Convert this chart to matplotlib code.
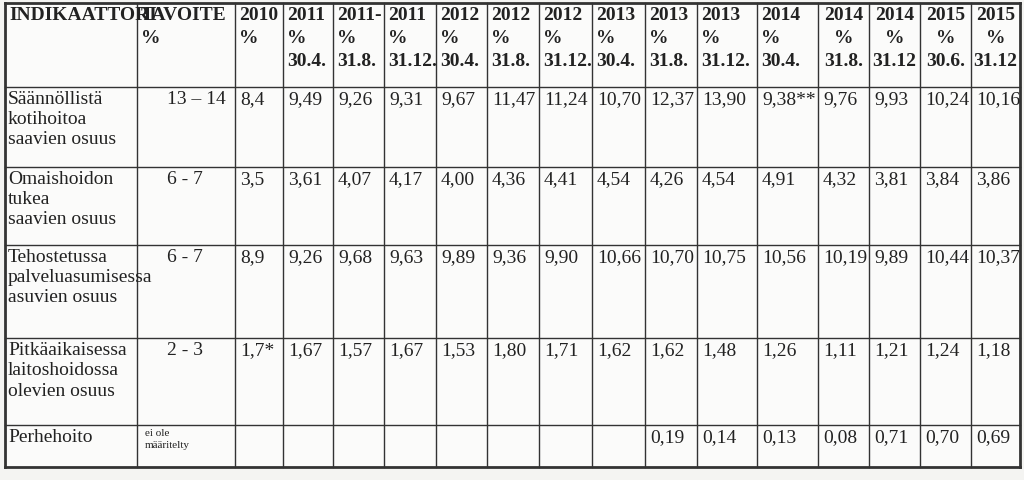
import matplotlib.pyplot as plt

# table content
headers = [
    "INDIKAATTORI", "TAVOITE\n%", "2010\n%", "2011\n%\n30.4.", "2011-\n%\n31.8.",
    "2011\n%\n31.12.", "2012\n%\n30.4.", "2012\n%\n31.8.", "2012\n%\n31.12.",
    "2013\n%\n30.4.", "2013\n%\n31.8.", "2013\n%\n31.12.", "2014\n%\n30.4.",
    "2014\n%\n31.8.", "2014\n%\n31.12", "2015\n%\n30.6.", "2015\n%\n31.12",
]
indicators = [
    "Säännöllistä\nkotihoitoa\nsaavien osuus",
    "Omaishoidon\ntukea\nsaavien osuus",
    "Tehostetussa\npalveluasumisessa\nasuvien osuus",
    "Pitkäaikaisessa\nlaitoshoidossa\nolevien osuus",
    "Perhehoito",
]
targets = ["13 – 14", "6 - 7", "6 - 7", "2 - 3", "ei ole\nmääritelty"]
values = [
    ["8,4", "9,49", "9,26", "9,31", "9,67", "11,47", "11,24", "10,70", "12,37", "13,90", "9,38**", "9,76", "9,93", "10,24", "10,16"],
    ["3,5", "3,61", "4,07", "4,17", "4,00", "4,36", "4,41", "4,54", "4,26", "4,54", "4,91", "4,32", "3,81", "3,84", "3,86"],
    ["8,9", "9,26", "9,68", "9,63", "9,89", "9,36", "9,90", "10,66", "10,70", "10,75", "10,56", "10,19", "9,89", "10,44", "10,37"],
    ["1,7*", "1,67", "1,57", "1,67", "1,53", "1,80", "1,71", "1,62", "1,62", "1,48", "1,26", "1,11", "1,21", "1,24", "1,18"],
    ["", "", "", "", "", "", "", "", "0,19", "0,14", "0,13", "0,08", "0,71", "0,70", "0,69"],
]

# layout in pixels
col_x = [5, 137, 235, 283, 333, 384, 436, 487, 539, 592, 645, 697, 757, 818, 869, 920, 971, 1020]
row_y = [3, 87, 167, 245, 338, 425, 467]

W, H = 1024, 480
fig = plt.figure(figsize=(W / 100, H / 100), dpi=100)
fig.patch.set_facecolor("#f4f4f2")
ax = fig.add_axes([0, 0, 1, 1])
ax.set_xlim(0, W)
ax.set_ylim(H, 0)
ax.axis("off")
ax.fill_between([col_x[0], col_x[-1]], row_y[0], row_y[-1], color="#fbfbfa", zorder=0)

for x in col_x:
    lw = 2 if x in (col_x[0], col_x[-1]) else 1
    ax.plot([x, x], [row_y[0], row_y[-1]], color="#333333", lw=lw)
for y in row_y:
    lw = 2 if y in (row_y[0], row_y[-1]) else 1
    ax.plot([col_x[0], col_x[-1]], [y, y], color="#333333", lw=lw)

font = ["Liberation Serif", "Times New Roman", "DejaVu Serif"]
centered = set(range(13, 17))
for j, h in enumerate(headers):
    if j in centered:
        xx, ha = (col_x[j] + col_x[j + 1]) / 2, "center"
    else:
        xx, ha = col_x[j] + 4, "left"
    ax.text(xx, row_y[0] + 4, h, ha=ha, va="top", family=font, fontsize=14,
            fontweight="bold", color="#222222", linespacing=1.45)

for i in range(len(indicators)):
    y0 = row_y[i + 1] + 4
    ax.text(col_x[0] + 3, y0, indicators[i], ha="left", va="top", family=font,
            fontsize=14, color="#222222", linespacing=1.25)
    small = i == 4
    ax.text(col_x[1] + (8 if small else 30), y0, targets[i], ha="left", va="top", family=font,
            fontsize=8 if small else 14, color="#222222", linespacing=1.5)
    for k, v in enumerate(values[i]):
        j = k + 2
        ax.text(col_x[j] + 5, y0, v, ha="left", va="top", family=font,
                fontsize=14, color="#222222")

fig.savefig("out.png", dpi=100, facecolor=fig.get_facecolor())
